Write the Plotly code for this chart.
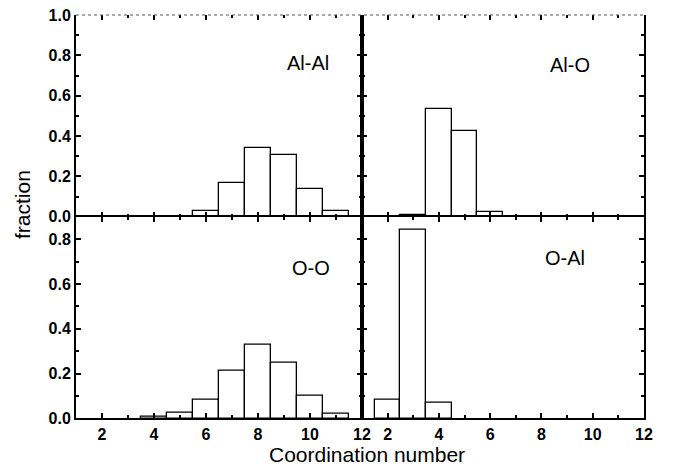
import plotly.graph_objects as go

# Coordination-number distributions (fraction of atoms with n neighbours)
coord = [2, 3, 4, 5, 6, 7, 8, 9, 10, 11]
al_al = [0.0, 0.0, 0.0, 0.0, 0.030, 0.167, 0.339, 0.307, 0.136, 0.028]
al_o = [0.0, 0.006, 0.532, 0.426, 0.023, 0.0, 0.0, 0.0, 0.0, 0.0]
o_o = [0.0, 0.0, 0.009, 0.024, 0.085, 0.213, 0.328, 0.250, 0.103, 0.019]
o_al = [0.085, 0.842, 0.069, 0.0, 0.0, 0.0, 0.0, 0.0, 0.0, 0.0]

x_ticks = [2, 4, 6, 8, 10, 12]
panel_names = ["Al-Al", "Al-O", "O-O", "O-Al"]

W, H = 673, 467
L, M, R = 76, 362, 644
T, MID, B = 15, 216.7, 418.3

def px_x(v):
    return v / W

def px_y(v):
    return 1 - v / H

dom_left = [px_x(L), px_x(M)]
dom_right = [px_x(M), px_x(R)]
dom_top = [px_y(MID), px_y(T)]
dom_bot = [px_y(B), px_y(MID)]

fig = go.Figure()

series = [al_al, al_o, o_o, o_al]
axes_ids = ["", "2", "3", "4"]
for vals, aid in zip(series, axes_ids):
    xs = [c for c, v in zip(coord, vals) if v > 0]
    ys = [v for v in vals if v > 0]
    fig.add_trace(go.Bar(
        x=xs, y=ys, width=1,
        marker=dict(color="white", line=dict(color="black", width=1.3)),
        xaxis="x" + aid, yaxis="y" + aid, showlegend=False,
    ))

font_ticks = dict(family="Liberation Sans, Arial, sans-serif", size=16,
                  color="black")

def bold(s):
    return "<b>" + s + "</b>"

def xaxis(domain, anchor, labels, line):
    return dict(
        domain=domain, anchor=anchor, range=[1, 12], automargin=False,
        tickvals=x_ticks, ticktext=[bold(str(t)) for t in x_ticks],
        showticklabels=labels, ticks="inside", ticklen=5, tickwidth=2,
        tickcolor="black", mirror="ticks", showline=line, linewidth=2,
        linecolor="black", showgrid=False, zeroline=False,
        minor=dict(ticks="inside", ticklen=3, tickwidth=1.5,
                   tickcolor="black", dtick=1, tick0=1),
        tickfont=font_ticks,
    )

def yaxis(domain, anchor, rng, vals, labels):
    return dict(
        domain=domain, anchor=anchor, range=rng, automargin=False,
        tickvals=vals, ticktext=[bold(f"{v:.1f}") for v in vals],
        showticklabels=labels, ticks="inside", ticklen=5, tickwidth=2,
        tickcolor="black", mirror="ticks", showline=True, linewidth=2,
        linecolor="black", showgrid=False, zeroline=False,
        minor=dict(ticks="inside", ticklen=3, tickwidth=1.5,
                   tickcolor="black", dtick=0.1, tick0=0),
        tickfont=font_ticks,
    )

top_vals = [0.0, 0.2, 0.4, 0.6, 0.8, 1.0]
bot_vals = [0.0, 0.2, 0.4, 0.6, 0.8]

fig.update_layout(
    width=W, height=H,
    margin=dict(l=0, r=0, t=0, b=0),
    paper_bgcolor="white", plot_bgcolor="white",
    bargap=0,
    xaxis=xaxis(dom_left, "y", False, False),
    yaxis=yaxis(dom_top, "x", [0, 1.0], top_vals, True),
    xaxis2=xaxis(dom_right, "y2", False, False),
    yaxis2=yaxis(dom_top, "x2", [0, 1.0], top_vals, False),
    xaxis3=xaxis(dom_left, "y3", True, True),
    yaxis3=yaxis(dom_bot, "x3", [0, 0.9], bot_vals, True),
    xaxis4=xaxis(dom_right, "y4", True, True),
    yaxis4=yaxis(dom_bot, "x4", [0, 0.9], bot_vals, False),
)

# Thin dotted frame along the top of the upper panels
fig.add_shape(type="line", xref="paper", yref="paper",
              x0=px_x(L), x1=px_x(R), y0=px_y(T), y1=px_y(T),
              line=dict(color="#555555", width=1, dash="dot"))

label_font = dict(family="Liberation Sans, Arial, sans-serif", size=20, color="black")
label_pos = [(9.92, 0.762), (9.1, 0.752), (10.04, 0.672), (8.9, 0.717)]
for name, aid, (lx, ly) in zip(panel_names, axes_ids, label_pos):
    fig.add_annotation(text=name, x=lx, y=ly, xref="x" + aid, yref="y" + aid,
                       showarrow=False, font=label_font)

title_font = dict(family="Liberation Sans, Arial, sans-serif", size=21, color="black")
fig.add_annotation(text="Coordination number", x=px_x(367), y=0,
                   xref="paper", yref="paper", showarrow=False, font=title_font,
                   xanchor="center", yanchor="bottom", borderpad=0)
fig.add_annotation(text="fraction", x=px_x(23), y=px_y(204),
                   xref="paper", yref="paper", showarrow=False, font=title_font,
                   textangle=-90, xanchor="center", yanchor="middle")

fig.write_html("out.html")
